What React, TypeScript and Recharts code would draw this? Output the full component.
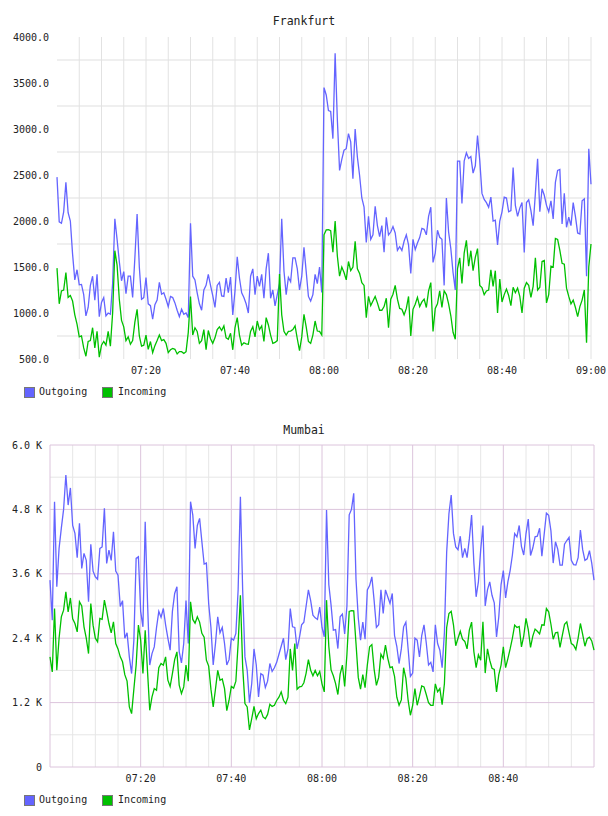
import { LineChart, Line, XAxis, YAxis, CartesianGrid } from 'recharts';

// samples every 30 s from 07:00 to 09:00
const STEP = 0.5;

const timeTicks = [20, 40, 60, 80, 100, 120];
const timeLabels = ['07:20', '07:40', '08:00', '08:20', '08:40', '09:00'];

const fraTicks = [500, 1000, 1500, 2000, 2500, 3000, 3500, 4000];
const fraGridY = [750, 1250, 1750, 2250, 2750, 3250, 3750];
const mumTicks = [0, 1200, 2400, 3600, 4800, 6000];
const mumMinorY = [600, 1800, 3000, 4200, 5400];

const fiveMin = [5, 10, 15, 20, 25, 30, 35, 40, 45, 50, 55, 60, 65, 70, 75, 80, 85, 90, 95, 100, 105, 110, 115, 120];
const mumMajorX = [0, 20, 40, 60, 80, 100, 120];
const mumMinorX = [5, 10, 15, 25, 30, 35, 45, 50, 55, 65, 70, 75, 85, 90, 95, 105, 110, 115];

const fraOut = [
  2477, 1990, 1975, 2100, 2420, 2090, 2000, 1640, 1360, 1470, 1306, 1310, 1200, 968, 1060, 1300, 1400, 1140, 1420, 960,
  1114, 1168, 968, 1000, 986, 1320, 2023, 1800, 1560, 1350, 1450, 1210, 1400, 1400, 1168, 1600, 2077, 1500, 1150, 1168,
  1386, 1100, 1080, 932, 1090, 1140, 1332, 1204, 1220, 1150, 1070, 1180, 1168, 1110, 1030, 960, 1041, 986, 1000, 950,
  1975, 1400, 1360, 1220, 1100, 1030, 1250, 1300, 1420, 1300, 1190, 1060, 1300, 1332, 1186, 1180, 1380, 1220, 1390, 980,
  1240, 1612, 1380, 1220, 1168, 1100, 1000, 1400, 1480, 1200, 1400, 1290, 1420, 1160, 1480, 1650, 1160, 1250, 1077, 1200,
  1320, 2023, 1459, 1200, 1386, 1340, 1600, 1600, 1480, 1250, 1400, 1713, 1450, 1180, 1130, 1200, 1420, 1320, 1500, 1223,
  3450, 3370, 3200, 3190, 2895, 3822, 3100, 2550, 2670, 2770, 2786, 2950, 2860, 2460, 3000, 2695, 2495, 2250, 2150, 1768,
  2050, 1800, 1850, 2160, 1950, 1830, 1950, 1660, 2040, 1850, 1880, 1940, 1870, 1680, 1720, 1680, 1780, 1850, 1740, 1430,
  1800, 1690, 1760, 1820, 1920, 1910, 1850, 2050, 2150, 1550, 1650, 1900, 1823, 1800, 1300, 2250, 1880, 1700, 1440, 1250,
  2650, 2650, 2190, 2650, 2740, 2680, 2700, 2521, 2600, 2930, 2659, 2300, 2234, 2200, 2150, 2259, 2000, 2010, 1740, 2000,
  2100, 2259, 2250, 2100, 2113, 2580, 2170, 2050, 2140, 2200, 1659, 2200, 2230, 2113, 1950, 2300, 2677, 2100, 2350, 2280,
  2170, 2100, 2220, 2023, 2420, 2550, 2560, 1968, 2300, 1932, 2041, 1950, 2200, 2050, 1870, 1859, 2220, 2241, 1400, 2786,
  2400,
];

const fraIn = [
  1488, 1100, 1240, 1250, 1440, 1170, 1190, 1130, 980, 880, 740, 750, 620, 530, 690, 700, 840, 620, 800, 520,
  650, 690, 650, 800, 640, 1000, 1677, 1520, 1150, 920, 850, 700, 740, 660, 700, 900, 1040, 750, 640, 650,
  760, 605, 690, 570, 645, 700, 760, 700, 710, 670, 570, 600, 615, 605, 555, 580, 580, 560, 580, 790,
  1180, 760, 840, 800, 670, 700, 820, 600, 810, 720, 670, 730, 820, 850, 810, 860, 730, 714, 780, 600,
  840, 950, 760, 650, 677, 665, 660, 800, 850, 740, 913, 820, 859, 690, 950, 870, 760, 670, 680, 700,
  1423, 980, 800, 760, 800, 804, 820, 860, 720, 590, 740, 986, 850, 690, 670, 760, 913, 804, 800, 760,
  1850, 1903, 1905, 1895, 1660, 2000, 1620, 1400, 1500, 1440, 1360, 1560, 1460, 1500, 1779, 1480, 1430, 1330, 1300, 950,
  1180, 1080, 1130, 1180, 1110, 1030, 1030, 1070, 1160, 840, 1150, 1204, 1300, 1150, 1050, 1041, 980, 1050, 1180, 750,
  1040, 1095, 1170, 1070, 1120, 1150, 1060, 1240, 1330, 800, 1050, 1100, 1240, 1060, 1240, 1200, 1100, 970, 790, 714,
  1480, 1600, 1320, 1650, 1790, 1510, 1677, 1460, 1604, 1700, 1300, 1277, 1200, 1240, 1250, 1470, 1290, 1460, 1000, 1370,
  1120, 1200, 1260, 1190, 1080, 1280, 1220, 1270, 1180, 1000, 1270, 1330, 1300, 1170, 1290, 1600, 1250, 1280, 1560, 1570,
  1110, 1200, 1510, 1500, 1810, 1800, 1680, 1540, 1530, 1270, 1180, 1100, 1140, 1060, 960, 1070, 1140, 1250, 677, 1500,
  1750,
];

const mumOut = [
  3482, 2736, 4943, 3358, 4073, 4450, 4800, 5441, 4881, 5200, 4500, 4353, 3900, 4539, 3700, 3980, 3850, 3078, 4150, 3650,
  3544, 3500, 4073, 4100, 4819, 3793, 4042, 3850, 4384, 3650, 3575, 2990, 3100, 2400, 2500, 2052, 1741, 2363, 3886, 3917,
  2900, 2612, 4570, 3100, 1900, 2114, 2238, 2600, 2900, 2790, 2953, 2650, 2400, 2176, 2900, 3233, 3358, 2150, 1940, 2300,
  3100, 2301, 4943, 4694, 4073, 4500, 4632, 4200, 3780, 3800, 3047, 2600, 1900, 2300, 2800, 2500, 2600, 2301, 1900, 2000,
  2400, 2363, 2490, 3300, 5037, 3300, 2052, 1800, 1200, 1555, 2200, 1900, 1306, 1740, 1710, 1480, 1600, 1928, 1780, 1850,
  1950, 2100, 2250, 2400, 2000, 2200, 2953, 2612, 2600, 2200, 2400, 2650, 2700, 3000, 3300, 3100, 2829, 2780, 2750, 2980,
  2600, 2425, 4788, 3400, 3016, 2549, 2560, 2207, 2800, 2850, 2480, 3000, 4700, 4800, 5099, 3500, 2780, 2363, 2700, 2380,
  3300, 3380, 3544, 3100, 2600, 2650, 3300, 2860, 3300, 3171, 3050, 3233, 2450, 2250, 1928, 2200, 2612, 2700, 2200, 1690,
  1750, 2400, 2363, 2050, 2450, 2650, 2310, 1900, 1950, 1772, 2650, 2300, 2176, 1850, 2500, 4000, 4720, 5068, 4353, 4100,
  4050, 4300, 3900, 4073, 3900, 4250, 4694, 3800, 3171, 3450, 4042, 4500, 3000, 3300, 3450, 3200, 3060, 2425, 2800, 3400,
  3660, 3150, 3450, 3660, 3950, 4350, 4290, 4500, 4104, 3950, 4350, 4620, 3940, 4080, 4290, 4300, 4450, 3930, 4330, 4730,
  4690, 4400, 3800, 4197, 4060, 3760, 3760, 4150, 4220, 4280, 3850, 3770, 3762, 3900, 4415, 4050, 3850, 3880, 4030, 3800,
  3482,
];

const mumIn = [
  2052, 1772, 2953, 1803, 2400, 2798, 2923, 3264, 2891, 3150, 2760, 2674, 2518, 3078, 3000, 2612, 2400, 2114, 3047, 2643,
  2400, 2332, 2767, 2750, 3109, 2900, 2674, 2500, 2705, 2300, 2200, 2052, 1960, 1720, 1600, 1119, 995, 1450, 1900, 2643,
  2363, 1741, 2549, 1800, 1057, 1306, 1461, 1430, 1850, 1928, 1897, 2052, 1617, 1500, 1741, 2000, 2145, 1523, 1368, 1492,
  1900, 1600, 3078, 2750, 2680, 2798, 2700, 2490, 2420, 1990, 1880, 1450, 1119, 1450, 1800, 1617, 1640, 1461, 1050, 1244,
  1500, 1470, 1600, 2300, 3202, 1866, 1181, 1120, 690, 900, 1130, 900, 995, 1060, 933, 900, 980, 1170, 1130, 1150,
  1240, 1300, 1400, 1244, 1180, 1300, 2200, 1800, 2300, 1450, 1492, 1500, 1570, 1750, 2000, 1803, 1700, 1800, 1700, 1780,
  1550, 1400, 3109, 2250, 1810, 1700, 1555, 1350, 1730, 1900, 1500, 2100, 2900, 2915, 2910, 2300, 1670, 1450, 1720, 1480,
  1900, 2240, 2280, 1820, 1520, 1670, 2100, 2020, 2270, 2030, 1850, 1866, 1690, 1300, 1150, 1250, 1850, 1650, 1240, 964,
  1150, 1461, 1150, 1320, 1510, 1492, 1350, 1200, 1150, 1150, 1550, 1400, 1461, 1160, 1550, 2600, 2860, 2900, 2650, 2260,
  2400, 2530, 2380, 2340, 2200, 2550, 2700, 2150, 1850, 2090, 1990, 2705, 1750, 2200, 1990, 1840, 1820, 1399, 1720, 1900,
  2238, 1850, 2020, 2200, 2400, 2643, 2600, 2620, 2238, 2440, 2770, 2560, 2230, 2440, 2570, 2530, 2480, 2650, 2643, 2953,
  2891, 2660, 2380, 2500, 2510, 2230, 2450, 2660, 2705, 2500, 2301, 2270, 2190, 2400, 2674, 2470, 2250, 2390, 2420, 2350,
  2176,
];

const OUT_COLOR = '#6464ff';
const IN_COLOR = '#00c000';
const MONO = '"DejaVu Sans Mono", monospace';

const fraRows = fraOut.map((v, i) => ({ t: i * STEP, out: v, inc: fraIn[i] }));
const mumRows = mumOut.map((v, i) => ({ t: i * STEP, out: v, inc: mumIn[i] }));

const timeFmt = (v: number) => timeLabels[timeTicks.indexOf(v)] ?? '';
const tickStyle = { fontFamily: MONO, fontSize: 10, fill: '#222' };

function Legend({ top }: { top: number }) {
  const box = (color: string) => ({
    position: 'absolute' as const, width: 9, height: 9, background: color, border: '1px solid #777', top: 0,
  });
  const label = { position: 'absolute' as const, top: -1, fontFamily: MONO, fontSize: 10, color: '#222', lineHeight: '12px' };
  return (
    <div style={{ position: 'absolute', left: 0, top, width: 300, height: 14 }}>
      <div style={{ ...box(OUT_COLOR), left: 24 }} />
      <div style={{ ...label, left: 39 }}>Outgoing</div>
      <div style={{ ...box(IN_COLOR), left: 102 }} />
      <div style={{ ...label, left: 118 }}>Incoming</div>
    </div>
  );
}

function Title({ text, top }: { text: string; top: number }) {
  return (
    <div style={{ position: 'absolute', left: 0, top, width: 608, textAlign: 'center', fontFamily: MONO, fontSize: 11.5, color: '#222' }}>
      {text}
    </div>
  );
}

export default function App() {
  return (
    <div style={{ position: 'absolute', left: 0, top: 0, width: 608, height: 816, background: '#fff' }}>
      <Title text="Frankfurt" top={14} />
      <div style={{ position: 'absolute', left: 0, top: 0 }}>
        <LineChart width={608} height={385} data={fraRows} margin={{ top: 37, right: 17, bottom: 0, left: 0 }}>
          <CartesianGrid vertical={false} horizontalValues={fraGridY} stroke="#efefef" strokeWidth={2} />
          <CartesianGrid horizontal={false} verticalValues={fiveMin} stroke="#e2e2e2" strokeWidth={1} />
          <XAxis dataKey="t" type="number" domain={[0, 120]} ticks={timeTicks} tickFormatter={timeFmt}
            axisLine={false} tickLine={false} height={26} tick={tickStyle} interval={0} />
          <YAxis type="number" domain={[500, 4000]} ticks={fraTicks} tickFormatter={(v: number) => v.toFixed(1)}
            axisLine={false} tickLine={false} width={57} tick={tickStyle} interval={0} allowDataOverflow />
          <Line type="linear" dataKey="out" stroke={OUT_COLOR} strokeWidth={1.3} dot={false} isAnimationActive={false} />
          <Line type="linear" dataKey="inc" stroke={IN_COLOR} strokeWidth={1.3} dot={false} isAnimationActive={false} />
        </LineChart>
      </div>
      <Legend top={387} />

      <Title text="Mumbai" top={423} />
      <div style={{ position: 'absolute', left: 0, top: 408 }}>
        <LineChart width={608} height={385} data={mumRows} margin={{ top: 37, right: 14, bottom: 0, left: 0 }}>
          <CartesianGrid horizontalValues={mumMinorY} verticalValues={mumMinorX} stroke="#e6e6e6" strokeWidth={1} />
          <CartesianGrid horizontalValues={mumTicks} verticalValues={mumMajorX} stroke="#dcc4dc" strokeWidth={1} />
          <XAxis dataKey="t" type="number" domain={[0, 120]} ticks={timeTicks.slice(0, 5)} tickFormatter={timeFmt}
            axisLine={false} tickLine={false} height={26} tick={tickStyle} interval={0} />
          <YAxis type="number" domain={[0, 6000]} ticks={mumTicks}
            tickFormatter={(v: number) => (v === 0 ? '0' : (v / 1000).toFixed(1) + ' K')}
            axisLine={false} tickLine={false} width={50} tick={tickStyle} interval={0} />
          <Line type="linear" dataKey="out" stroke={OUT_COLOR} strokeWidth={1.3} dot={false} isAnimationActive={false} />
          <Line type="linear" dataKey="inc" stroke={IN_COLOR} strokeWidth={1.3} dot={false} isAnimationActive={false} />
        </LineChart>
      </div>
      <Legend top={795} />
    </div>
  );
}
